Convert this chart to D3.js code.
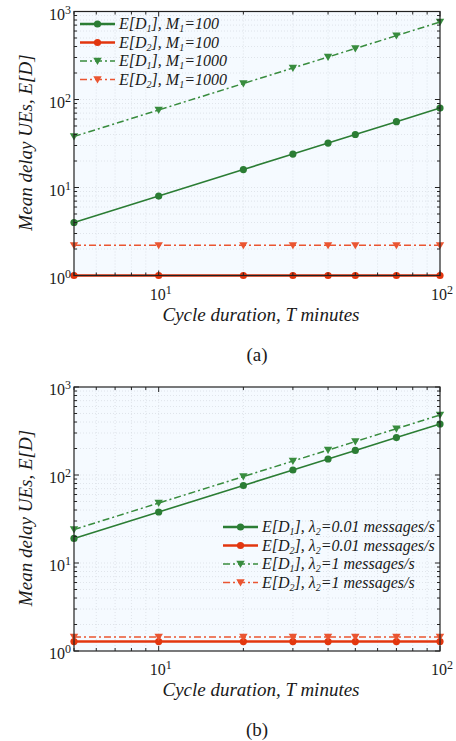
<!DOCTYPE html>
<html>
<head>
<meta charset="utf-8">
<script src="https://cdn.jsdelivr.net/npm/d3@7"></script>
<style>
  body { margin: 0; background: #fff; }
  svg text { font-family: "Liberation Serif", "Times New Roman", serif; fill: #1a1a1a; }
</style>
</head>
<body>
<script>
// cycle durations (minutes)
const T = [5, 10, 20, 30, 40, 50, 70, 100];

// panel (a)
const aD1M100 = [4, 8, 16, 24, 32, 40, 56, 80];
const aD2M100 = [1, 1, 1, 1, 1, 1, 1, 1];
const aD1M1000 = [38, 76, 152, 228, 304, 380, 532, 760];
const aD2M1000 = [2.2, 2.2, 2.2, 2.2, 2.2, 2.2, 2.2, 2.2];

// panel (b)
const bD1L001 = [19, 38, 76, 114, 152, 190, 266, 380];
const bD2L001 = [1.28, 1.28, 1.28, 1.28, 1.28, 1.28, 1.28, 1.28];
const bD1L1 = [24, 48, 96, 144, 192, 240, 336, 480];
const bD2L1 = [1.44, 1.44, 1.44, 1.44, 1.44, 1.44, 1.44, 1.44];

const GREEN = '#2b7d34';
const RED = '#e2360f';
const DASHDOT = '7,3,2,3';

const W = 456, H = 741;
const svg = d3.select('body').append('svg').attr('width', W).attr('height', H)
  .attr('font-family', '"Liberation Serif", "Times New Roman", serif');

// legend label parts: [text, isSub]
const legA = [
  [['E[D', 0], ['1', 1], ['], M', 0], ['1', 1], ['=100', 0]],
  [['E[D', 0], ['2', 1], ['], M', 0], ['1', 1], ['=100', 0]],
  [['E[D', 0], ['1', 1], ['], M', 0], ['1', 1], ['=1000', 0]],
  [['E[D', 0], ['2', 1], ['], M', 0], ['1', 1], ['=1000', 0]]
];
const legB = [
  [['E[D', 0], ['1', 1], ['], \u03bb', 0], ['2', 1], ['=0.01 messages/s', 0]],
  [['E[D', 0], ['2', 1], ['], \u03bb', 0], ['2', 1], ['=0.01 messages/s', 0]],
  [['E[D', 0], ['1', 1], ['], \u03bb', 0], ['2', 1], ['=1 messages/s', 0]],
  [['E[D', 0], ['2', 1], ['], \u03bb', 0], ['2', 1], ['=1 messages/s', 0]]
];

const styles = [
  { color: GREEN, dash: null, width: 1.6, legWidth: 2.6, marker: 'circle' },
  { color: RED, dash: null, width: 2.6, legWidth: 2.6, marker: 'circle' },
  { color: '#388c3e', dash: DASHDOT, width: 1.5, legWidth: 1.6, marker: 'tri' },
  { color: '#ea5531', dash: DASHDOT, width: 1.5, legWidth: 1.6, marker: 'tri' }
];

const triPath = 'M-4.2,-3.2L4.2,-3.2L0,4z';

function marker(g, kind, color, x, y) {
  if (kind === 'circle') {
    g.append('circle').attr('cx', x).attr('cy', y).attr('r', 3.6).attr('fill', color);
  } else {
    g.append('path').attr('d', triPath).attr('transform', `translate(${x},${y})`).attr('fill', color);
  }
}

function panel(opt) {
  const m = { left: 74, right: 440, top: opt.top, bottom: opt.top + 264 };
  const x = d3.scaleLog().domain([5, 100]).range([m.left, m.right]);
  const y = d3.scaleLog().domain([1, 1000]).range([m.bottom, m.top]);
  const g = svg.append('g');

  g.append('rect').attr('x', m.left).attr('y', m.top)
    .attr('width', m.right - m.left).attr('height', m.bottom - m.top)
    .attr('fill', '#f5faff');

  const xt = [5, 6, 7, 8, 9, 10, 20, 30, 40, 50, 60, 70, 80, 90, 100];
  const yt = [];
  [1, 10, 100].forEach(d => { for (let k = 1; k < 10; k++) yt.push(d * k); });
  yt.push(1000);

  // grid
  g.selectAll('.gx').data(xt.slice(1, -1)).join('line')
    .attr('x1', d => x(d)).attr('x2', d => x(d)).attr('y1', m.top).attr('y2', m.bottom)
    .attr('stroke', '#d9dee4').attr('stroke-width', 0.8).attr('stroke-dasharray', '1,2');
  g.selectAll('.gy').data(yt.slice(1, -1)).join('line')
    .attr('y1', d => y(d)).attr('y2', d => y(d)).attr('x1', m.left).attr('x2', m.right)
    .attr('stroke', '#d9dee4').attr('stroke-width', 0.8).attr('stroke-dasharray', '1,2');

  // series
  const line = d3.line().x((d, i) => x(T[i])).y(d => y(d));
  opt.series.forEach((s, k) => {
    const st = styles[k];
    g.append('path').datum(s).attr('d', line).attr('fill', 'none')
      .attr('stroke', st.color).attr('stroke-width', st.width)
      .attr('stroke-dasharray', st.dash);
  });
  opt.series.forEach((s, k) => {
    const st = styles[k];
    s.forEach((v, i) => marker(g, st.marker, st.color, x(T[i]), y(v)));
  });

  // frame and ticks
  g.append('rect').attr('x', m.left).attr('y', m.top)
    .attr('width', m.right - m.left).attr('height', m.bottom - m.top)
    .attr('fill', 'none').attr('stroke', '#222').attr('stroke-width', 1.2);
  const major = d => Math.abs(Math.log10(d) - Math.round(Math.log10(d))) < 1e-9;
  xt.forEach(d => {
    const L = major(d) ? 5 : 3;
    g.append('line').attr('x1', x(d)).attr('x2', x(d)).attr('y1', m.bottom).attr('y2', m.bottom - L).attr('stroke', '#222');
    g.append('line').attr('x1', x(d)).attr('x2', x(d)).attr('y1', m.top).attr('y2', m.top + L).attr('stroke', '#222');
  });
  yt.forEach(d => {
    const L = major(d) ? 5 : 3;
    g.append('line').attr('y1', y(d)).attr('y2', y(d)).attr('x1', m.left).attr('x2', m.left + L).attr('stroke', '#222');
    g.append('line').attr('y1', y(d)).attr('y2', y(d)).attr('x1', m.right).attr('x2', m.right - L).attr('stroke', '#222');
  });

  // tick labels
  [10, 100].forEach(d => {
    const t = g.append('text').attr('x', x(d) + 2).attr('y', m.bottom + 24)
      .attr('text-anchor', 'middle').attr('font-size', 16).attr('fill', '#333');
    t.append('tspan').text('10');
    t.append('tspan').text(Math.log10(d)).attr('font-size', 12).attr('dy', -6);
  });
  [1, 10, 100, 1000].forEach(d => {
    const t = g.append('text').attr('x', m.left - 3).attr('y', y(d) + 8)
      .attr('text-anchor', 'end').attr('font-size', 16).attr('fill', '#333');
    t.append('tspan').text('10');
    t.append('tspan').text(Math.log10(d)).attr('font-size', 12).attr('dy', -6);
  });

  // axis titles
  g.append('text').attr('x', 261).attr('y', m.bottom + 45).attr('text-anchor', 'middle')
    .attr('font-size', 19).attr('font-style', 'italic').text('Cycle duration, T minutes');
  g.append('text').attr('transform', `translate(32,${(m.top + m.bottom) / 2 - 1}) rotate(-90)`)
    .attr('text-anchor', 'middle').attr('font-size', 19).attr('font-style', 'italic')
    .text('Mean delay UEs, E[D]');
  g.append('text').attr('x', 257).attr('y', m.bottom + 85).attr('text-anchor', 'middle')
    .attr('font-size', 19).text(opt.caption);

  // legend
  opt.legend.forEach((parts, k) => {
    const st = styles[k];
    const ly = opt.legY + k * 18.5;
    g.append('line').attr('x1', opt.legX).attr('x2', opt.legX + 35).attr('y1', ly).attr('y2', ly)
      .attr('stroke', st.color).attr('stroke-width', st.legWidth).attr('stroke-dasharray', st.dash);
    marker(g, st.marker, st.color, opt.legX + 17.5, ly);
    const t = g.append('text').attr('x', opt.legX + 39).attr('y', ly + 5)
      .attr('font-size', 16).attr('font-style', 'italic');
    let sub = false;
    parts.forEach(([s, isSub]) => {
      const ts = t.append('tspan').text(s);
      if (isSub && !sub) { ts.attr('font-size', 10).attr('dy', 3); sub = true; }
      else if (!isSub && sub) { ts.attr('dy', -3); sub = false; }
    });
  });
}

panel({ top: 11.5, series: [aD1M100, aD2M100, aD1M1000, aD2M1000], legend: legA, legX: 80, legY: 24, caption: '(a)' });
panel({ top: 387, series: [bD1L001, bD2L001, bD1L1, bD2L1], legend: legB, legX: 223, legY: 527, caption: '(b)' });
</script>
</body>
</html>
